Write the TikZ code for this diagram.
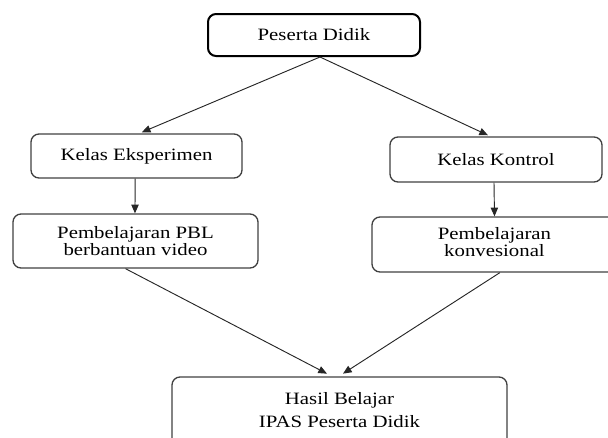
\documentclass[tikz,border=0pt]{standalone}
\usepackage{fontspec}
\setmainfont[FakeStretch=1.2]{Liberation Serif}
\usetikzlibrary{arrows.meta}
\begin{document}
\begin{tikzpicture}[x=0.75pt,y=-0.75pt,
  box/.style={draw=black!75,line width=1pt,rounded corners=6pt,inner sep=0pt,align=center,
    font=\fontsize{13}{13}\selectfont},
  conn/.style={draw=black!85,line width=0.7pt,-{Triangle[length=6.5pt,width=5.5pt]}}]
\useasboundingbox (0,0) rectangle (608,437);
\node[box,draw=black,line width=1.5pt,minimum width=159pt,minimum height=31.5pt] (pd) at (314,35) {Peserta Didik};
\node[box,minimum width=158.25pt,minimum height=33pt] (ke) at (136.5,156) {Kelas Eksperimen};
\node[box,minimum width=183.75pt,minimum height=40.5pt] (pbl) at (135.5,241) {Pembelajaran PBL\\berbantuan video};
\node[box,minimum width=159pt,minimum height=33.75pt] (kk) at (496,159.5) {Kelas Kontrol};
\node[box,align=left,minimum width=213.75pt,minimum height=41.25pt] (kv) at (514.5,244.5)
  {\begin{tabular}{@{}c@{}}Pembelajaran\\konvesional\end{tabular}\hspace*{30pt}};
\node[box,minimum width=251.25pt,minimum height=60pt,text depth=10.5pt,font=\fontsize{13}{17.25}\selectfont] (hb) at (339.5,417) {Hasil Belajar\\IPAS Peserta Didik};
\draw[conn] ([xshift=4.5pt]pd.south) -- ([xshift=4pt,yshift=0.8pt]ke.north);
\draw[conn] ([xshift=4.5pt]pd.south) -- ([xshift=-6pt,yshift=0.8pt]kk.north);
\draw[conn] ([xshift=-1pt]ke.south) -- ([xshift=-0.4pt]pbl.north);
\draw[conn] ([xshift=-1.5pt]kk.south) -- ([xshift=-15pt]kv.north);
\draw[conn] ([xshift=-7.5pt]pbl.south) -- ([xshift=-9.4pt,yshift=2pt]hb.north);
\draw[conn] ([xshift=-11pt]kv.south) -- ([xshift=2.6pt,yshift=2pt]hb.north);
\end{tikzpicture}
\end{document}
